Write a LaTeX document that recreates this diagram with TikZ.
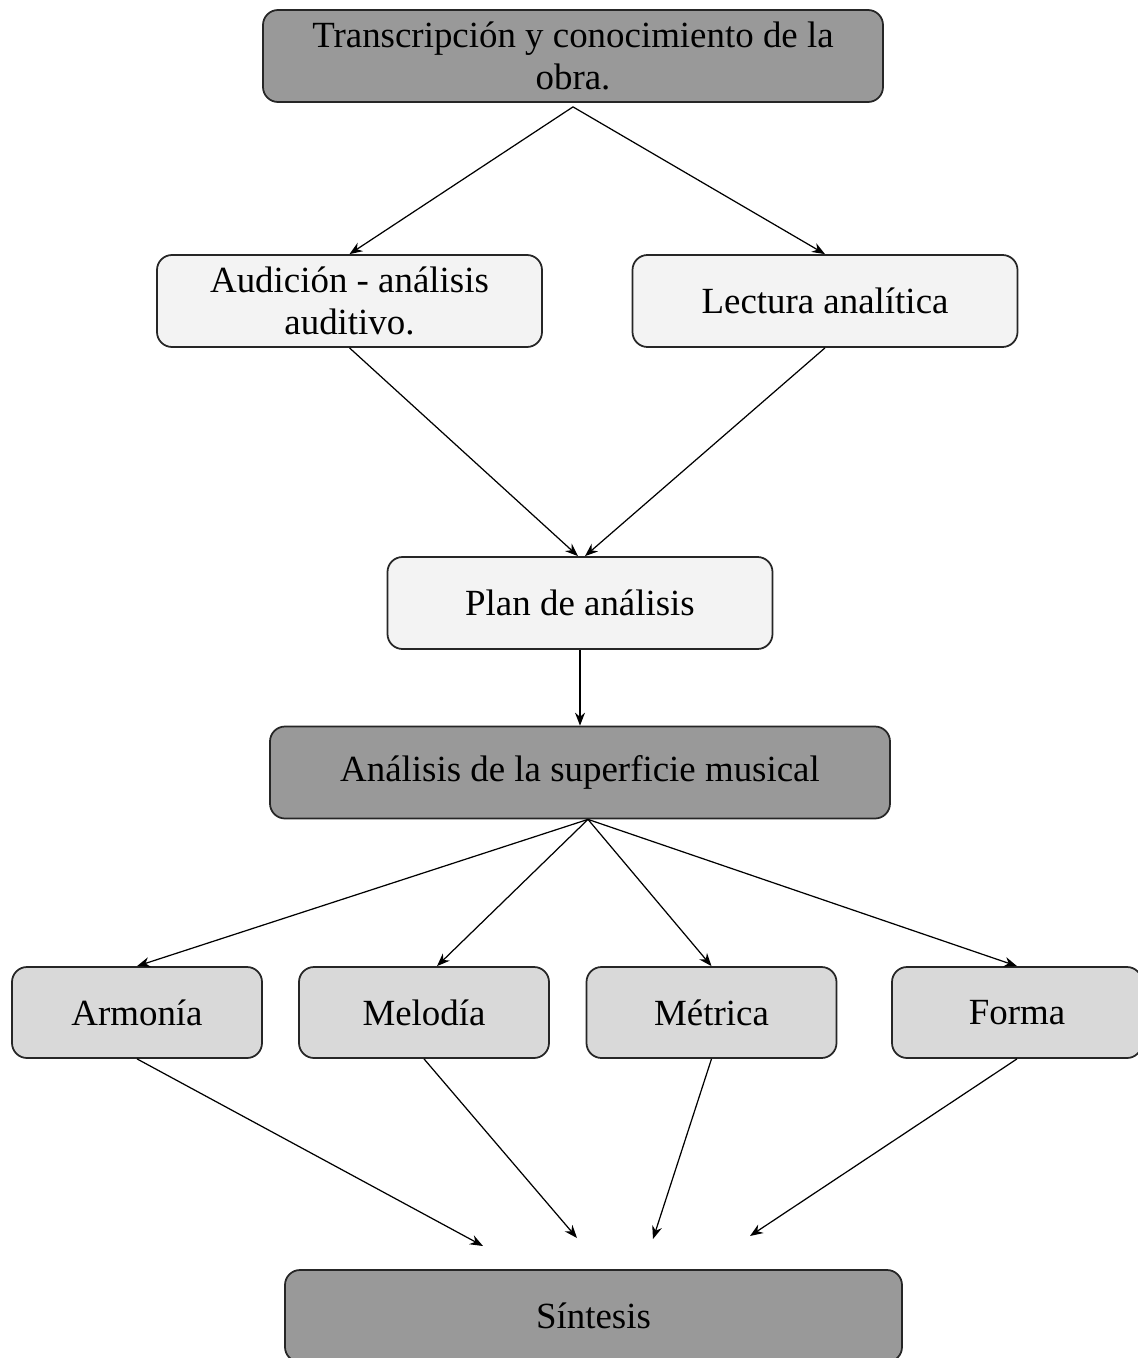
\documentclass[tikz,border=0pt]{standalone}
\usepackage{fontspec}
\setmainfont{Liberation Serif}
\usepackage{tikz}
\usetikzlibrary{arrows.meta}

\definecolor{darkbox}{HTML}{999999}
\definecolor{lightbox}{HTML}{F3F3F3}
\definecolor{midbox}{HTML}{D9D9D9}

\tikzset{
  box/.style={draw=black!85, line width=1pt, rounded corners=0.3cm, align=center,
    font=\fontsize{21}{24}\selectfont, inner sep=0pt},
  wide/.style={box, minimum width=12.4cm, minimum height=1.84cm},
  mid/.style={box, minimum width=7.7cm, minimum height=1.84cm, fill=lightbox},
  small/.style={box, minimum width=5cm, minimum height=1.82cm, fill=midbox},
  flow/.style={-{Stealth[length=0.26cm,width=0.2cm]}, line width=0.7pt}
}

\begin{document}
\begin{tikzpicture}
\useasboundingbox (0,0) rectangle (22.74,-27.16);

\node[wide, fill=darkbox] (obra) at (11.46,-1.12) {Transcripción y conocimiento de la\\obra.};
\node[mid] (audicion) at (6.99,-6.02) {Audición - análisis\\auditivo.};
\node[mid] (lectura) at (16.5,-6.02) {Lectura analítica};
\node[mid] (plan) at (11.6,-12.06) {Plan de análisis};
\node[wide, fill=darkbox] (superficie) at (11.6,-15.45) {Análisis de la superficie musical};
\node[small] (armonia) at (2.74,-20.25) {Armonía};
\node[small] (melodia) at (8.48,-20.25) {Melodía};
\node[small] (metrica) at (14.23,-20.25) {Métrica};
\node[small] (forma) at (20.34,-20.25) {Forma};
\node[wide, fill=darkbox, minimum width=12.34cm] (sintesis) at (11.87,-26.32) {Síntesis};

% free ends above Sintesis
\coordinate (s1) at (9.66,-24.92);
\coordinate (s2) at (11.54,-24.76);
\coordinate (s3) at (13.06,-24.78);
\coordinate (s4) at (15.0,-24.72);

\draw[flow] ([yshift=-0.08cm]obra.south) -- (audicion.north);
\draw[flow] ([yshift=-0.08cm]obra.south) -- (lectura.north);
\draw[flow] (audicion.south) -- ([xshift=-0.04cm]plan.north);
\draw[flow] (lectura.south) -- ([xshift=0.1cm]plan.north);
\draw[flow] (plan.south) -- (superficie.north);
\draw[flow] ([xshift=0.16cm]superficie.south) -- (armonia.north);
\draw[flow] ([xshift=0.16cm]superficie.south) -- ([xshift=0.26cm]melodia.north);
\draw[flow] ([xshift=0.16cm]superficie.south) -- (metrica.north);
\draw[flow] ([xshift=0.16cm]superficie.south) -- (forma.north);
\draw[flow] (armonia.south) -- (s1);
\draw[flow] (melodia.south) -- (s2);
\draw[flow] (metrica.south) -- (s3);
\draw[flow] (forma.south) -- (s4);

\end{tikzpicture}
\end{document}
